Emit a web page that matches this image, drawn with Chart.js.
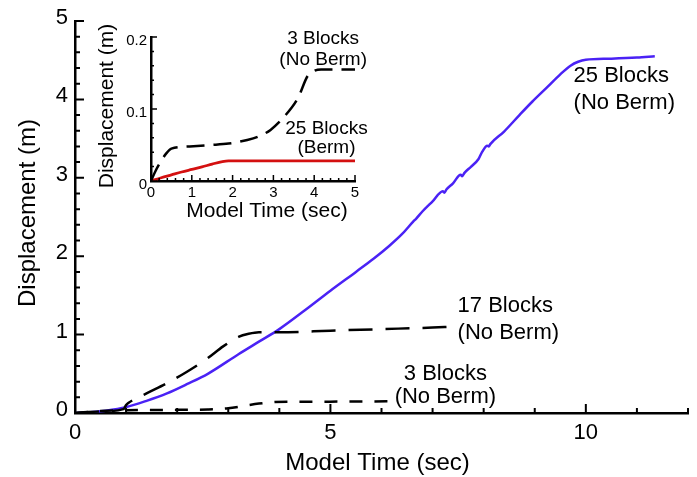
<!DOCTYPE html>
<html lang="en">
<head>
<meta charset="UTF-8">
<title>Displacement vs Model Time</title>
<script src="https://cdn.jsdelivr.net/npm/chart.js"></script>
<style>
  html, body { margin: 0; padding: 0; background: #fff; }
  #wrap { position: relative; width: 697px; height: 477px; }
  #mainChart { position: absolute; left: 0; top: 0; }
  #insetChart { position: absolute; left: 80px; top: 10px; }
</style>
</head>
<body>
<div id="wrap">
  <canvas id="mainChart" width="697" height="477"></canvas>
  <canvas id="insetChart" width="300" height="215"></canvas>
</div>
<script>
// ---- main plot: model time (sec) vs displacement (m) ----
const blocks25Time = [0, 0.3, 0.6, 1.0, 1.4, 1.8, 2.2, 2.6, 3.2, 3.6, 4.0, 4.5, 5.0, 5.5, 5.85, 6.15, 6.4, 6.62, 6.68, 6.8, 7.0,
  7.2, 7.23, 7.27, 7.4, 7.55, 7.58, 7.62, 7.75, 7.9, 7.97, 8.07, 8.1, 8.13, 8.4, 8.7, 8.95, 9.25, 9.5, 9.7, 9.85, 10.0, 10.5, 11.0, 11.35];
const blocks25Disp = [0, 0.01, 0.03, 0.075, 0.155, 0.25, 0.37, 0.5, 0.75, 0.91, 1.07, 1.31, 1.56, 1.80, 1.97, 2.13, 2.28, 2.44, 2.48, 2.57, 2.70,
  2.83, 2.81, 2.85, 2.93, 3.04, 3.02, 3.06, 3.14, 3.24, 3.33, 3.41, 3.40, 3.43, 3.59, 3.80, 3.97, 4.16, 4.32, 4.43, 4.48, 4.505, 4.52, 4.535, 4.55];

const blocks17Time = [0, 0.5, 0.95, 1.0, 1.05, 1.4, 1.8, 2.2, 2.6, 2.9, 3.2, 3.4, 3.6, 4.0, 5.0, 6.0, 7.0, 7.35];
const blocks17Disp = [0, 0.02, 0.05, 0.1, 0.13, 0.25, 0.38, 0.53, 0.70, 0.85, 0.97, 1.01, 1.03, 1.03, 1.05, 1.07, 1.09, 1.10];

const blocks3Time = [0, 0.5, 1.0, 2.0, 2.6, 3.0, 3.3, 3.6, 3.9, 4.2, 5.0, 6.25];
const blocks3Disp = [0, 0.025, 0.035, 0.04, 0.045, 0.06, 0.09, 0.12, 0.14, 0.145, 0.145, 0.15];

// ---- inset: first 5 seconds ----
const inset3Time = [0, 0.12, 0.25, 0.37, 0.5, 0.95, 1.45, 1.9, 2.36, 2.64, 2.93, 3.26, 3.6, 3.84, 4.0, 4.17, 5.0];
const inset3Disp = [0, 0.015, 0.028, 0.038, 0.045, 0.048, 0.05, 0.052, 0.057, 0.062, 0.071, 0.089, 0.115, 0.146, 0.153, 0.155, 0.155];

const berm25Time = [0, 0.25, 0.5, 0.75, 1.0, 1.25, 1.5, 1.75, 1.9, 3.0, 4.0, 5.0];
const berm25Disp = [0, 0.0045, 0.0085, 0.0125, 0.016, 0.0195, 0.0235, 0.027, 0.028, 0.028, 0.028, 0.028];

const mainXTicks = [0, 5, 10];
const mainYTicks = [0, 1, 2, 3, 4, 5];
const insetXTicks = [0, 1, 2, 3, 4, 5];
const insetYTicks = [0, 0.1, 0.2];

const FONT = '"Liberation Sans", Arial, Helvetica, sans-serif';

function pts(xs, ys) {
  return xs.map((x, i) => ({ x: x, y: ys[i] }));
}

function isMultiple(v, step) {
  const r = v / step;
  return Math.abs(r - Math.round(r)) < 1e-6;
}

// tick marks pointing into the plot area
const innerTicks = {
  id: 'innerTicks',
  afterDraw(chart, args, o) {
    const ctx = chart.ctx;
    const xs = chart.scales.x, ys = chart.scales.y;
    const area = chart.chartArea;
    ctx.save();
    ctx.strokeStyle = '#000';
    ctx.lineWidth = o.lineWidth;
    ctx.beginPath();
    const nx = Math.round((xs.max - xs.min) / o.xMinor);
    for (let i = 0; i <= nx; i++) {
      const v = xs.min + i * o.xMinor;
      const px = xs.getPixelForValue(v);
      const len = isMultiple(v, o.xMajor) ? o.majorLen : o.minorLen;
      ctx.moveTo(px, area.bottom);
      ctx.lineTo(px, area.bottom - len);
    }
    const ny = Math.round((ys.max - ys.min) / o.yMinor);
    for (let i = 0; i <= ny; i++) {
      const v = ys.min + i * o.yMinor;
      const py = ys.getPixelForValue(v);
      const len = isMultiple(v, o.yMajor) ? o.majorLen : o.minorLen;
      ctx.moveTo(area.left, py);
      ctx.lineTo(area.left + len, py);
    }
    ctx.stroke();
    ctx.restore();
  }
};

// axis titles and curve labels
const textLayer = {
  id: 'textLayer',
  afterDraw(chart, args, o) {
    const ctx = chart.ctx;
    const area = chart.chartArea;
    const xs = chart.scales.x, ys = chart.scales.y;
    ctx.save();
    ctx.fillStyle = '#000';
    ctx.textBaseline = 'middle';

    ctx.font = o.titleSize + 'px ' + FONT;
    ctx.textAlign = 'center';
    ctx.fillText(o.xTitle, (area.left + area.right) / 2 + o.xTitleDx, area.bottom + o.xTitleDy);
    ctx.save();
    ctx.translate(area.left - o.yTitleDx, (area.top + area.bottom) / 2 + o.yTitleDy);
    ctx.rotate(-Math.PI / 2);
    ctx.fillText(o.yTitle, 0, 0);
    ctx.restore();

    ctx.font = o.labelSize + 'px ' + FONT;
    o.labels.forEach(lb => {
      ctx.textAlign = lb.align;
      lb.lines.forEach((line, i) => {
        ctx.fillText(line, xs.getPixelForValue(lb.x), ys.getPixelForValue(lb.y[i]));
      });
    });
    ctx.restore();
  }
};

function lineSet(data, color, width, dash) {
  return {
    data: data,
    borderColor: color,
    borderWidth: width,
    borderDash: dash,
    pointRadius: 0,
    fill: false,
    tension: 0,
    cubicInterpolationMode: 'monotone'
  };
}

function axis(min, max, ticks, fontSize, pad, labelOffset, fitSize, horizontal, fmt) {
  return {
    type: 'linear',
    min: min,
    max: max,
    afterBuildTicks: s => { s.ticks = ticks.map(v => ({ value: v })); },
    afterFit: s => { if (horizontal) s.height = fitSize; else s.width = fitSize; },
    grid: { display: false, drawTicks: false },
    border: { display: true, color: '#000', width: 2.5 },
    ticks: {
      color: '#000',
      font: { family: FONT, size: fontSize },
      padding: pad,
      labelOffset: labelOffset,
      maxRotation: 0,
      autoSkip: false,
      callback: fmt
    }
  };
}

new Chart(document.getElementById('mainChart'), {
  type: 'line',
  data: {
    datasets: [
      lineSet(pts(blocks3Time, blocks3Disp), '#000', 2.5, [13, 12]),
      lineSet(pts(blocks17Time, blocks17Disp), '#000', 2.5, [24, 13]),
      lineSet(pts(blocks25Time, blocks25Disp), '#4a22f5', 2.5, [])
    ]
  },
  options: {
    responsive: false,
    animation: false,
    layout: { padding: { top: 21, right: 9, left: 0, bottom: 0 } },
    plugins: {
      legend: { display: false },
      tooltip: { enabled: false },
      innerTicks: { lineWidth: 2, xMinor: 1, xMajor: 5, yMinor: 0.2, yMajor: 1, majorLen: 9, minorLen: 5 },
      textLayer: {
        xTitle: 'Model Time (sec)', yTitle: 'Displacement (m)',
        titleSize: 24, xTitleDx: -4, xTitleDy: 50, yTitleDx: 47, yTitleDy: -4,
        labelSize: 22,
        labels: [
          { lines: ['25 Blocks', '(No Berm)'], x: 9.76, y: [4.30, 3.95], align: 'left' },
          { lines: ['17 Blocks', '(No Berm)'], x: 7.49, y: [1.365, 1.02], align: 'left' },
          { lines: ['3 Blocks', '(No Berm)'], x: 7.25, y: [0.50, 0.21], align: 'center' }
        ]
      }
    },
    scales: {
      x: axis(0, 12, mainXTicks, 22, 7, 0, 64, true, v => v),
      y: axis(0, 5, mainYTicks, 22, 7, -3, 75, false, v => v)
    }
  },
  plugins: [innerTicks, textLayer]
});

new Chart(document.getElementById('insetChart'), {
  type: 'line',
  data: {
    datasets: [
      lineSet(pts(inset3Time, inset3Disp), '#000', 2.5, [18, 9]),
      lineSet(pts(berm25Time, berm25Disp), '#d41010', 2.8, [])
    ]
  },
  options: {
    responsive: false,
    animation: false,
    layout: { padding: { top: 27, right: 25, left: 0, bottom: 0 } },
    plugins: {
      legend: { display: false },
      tooltip: { enabled: false },
      innerTicks: { lineWidth: 1.5, xMinor: 0.2, xMajor: 1, yMinor: 0.02, yMajor: 0.1, majorLen: 6, minorLen: 3 },
      textLayer: {
        xTitle: 'Model Time (sec)', yTitle: 'Displacement (m)',
        titleSize: 21, xTitleDx: 14, xTitleDy: 30, yTitleDx: 44, yTitleDy: -3,
        labelSize: 19,
        labels: [
          { lines: ['3 Blocks', '(No Berm)'], x: 4.22, y: [0.197, 0.168], align: 'center' },
          { lines: ['25 Blocks', '(Berm)'], x: 4.3, y: [0.072, 0.0455], align: 'center' }
        ]
      }
    },
    scales: {
      x: axis(0, 5, insetXTicks, 15, 3, 0, 44, true, v => v),
      y: axis(0, 0.2, insetYTicks, 15, 4, 4, 71, false, v => (v === 0 ? '0' : v.toFixed(1)))
    }
  },
  plugins: [innerTicks, textLayer]
});
</script>
</body>
</html>
